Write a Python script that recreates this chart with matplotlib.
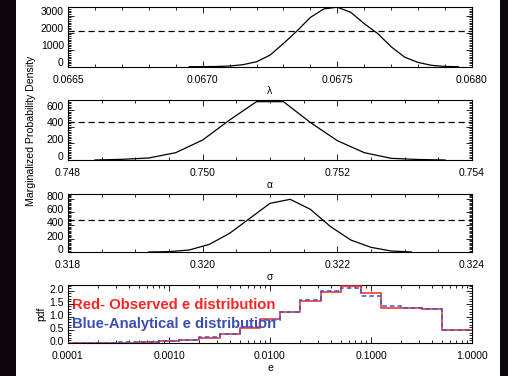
import matplotlib
matplotlib.use('Agg')
import matplotlib.pyplot as plt
import matplotlib.transforms as mtransforms
from matplotlib.patches import Rectangle
from matplotlib.ticker import FixedLocator, AutoMinorLocator, FormatStrFormatter, LogLocator, NullFormatter

plt.rcParams['font.family'] = ['Liberation Sans', 'DejaVu Sans']

# lambda marginal
lam_x = [0.06695, 0.06700, 0.06705, 0.06710, 0.06715, 0.06720, 0.06725, 0.06730, 0.06735,
         0.06740, 0.06745, 0.06750, 0.06755, 0.06760, 0.06765, 0.06770, 0.06775, 0.06780,
         0.06785, 0.06790, 0.06795]
lam_y = [0, 3, 12, 40, 120, 290, 680, 1365, 2100, 2900, 3400, 3500, 3200, 2530, 1950,
         1170, 560, 250, 80, 15, 0]
lam_level = 2100

# alpha marginal
alp_x = [0.7484, 0.7488, 0.7492, 0.7496, 0.7500, 0.7504, 0.7508, 0.7512, 0.7516, 0.7520,
         0.7524, 0.7528, 0.7532, 0.7536]
alp_y = [0, 8, 24, 88, 240, 480, 700, 700, 450, 232, 88, 20, 6, 0]
alp_level = 450

# sigma marginal
sig_x = [0.3192, 0.3195, 0.3198, 0.3201, 0.3204, 0.3207, 0.3210, 0.3213, 0.3216, 0.3219,
         0.3222, 0.3225, 0.3228, 0.3231]
sig_y = [0, 5, 30, 115, 280, 505, 730, 790, 640, 380, 180, 70, 15, 0]
sig_level = 480

# e distribution (log10 bin edges)
e_edges_log = [-4.1, -3.9, -3.7, -3.5, -3.3, -3.1, -2.9, -2.7, -2.5, -2.3, -2.1, -1.9, -1.7,
               -1.5, -1.3, -1.1, -0.9, -0.7, -0.5, -0.3, -0.1, 0.1]
e_observed = [0.003, 0.005, 0.01, 0.015, 0.03, 0.07, 0.13, 0.21, 0.35, 0.56, 0.92, 1.19, 1.6,
              1.96, 2.17, 1.9, 1.35, 1.35, 1.3, 0.5, 0.5]
e_analytic = [0.005, 0.01, 0.015, 0.02, 0.035, 0.07, 0.13, 0.22, 0.35, 0.6, 0.88, 1.19, 1.63,
              2.0, 2.1, 1.81, 1.43, 1.35, 1.3, 0.5, 0.5]

W, H = 508, 376
fig = plt.figure(figsize=(W / 100, H / 100), dpi=100, facecolor='#0d070c')
fig.patches.append(Rectangle((16 / W, 0), 484 / W, 1, transform=fig.transFigure,
                             facecolor='white', edgecolor='none', zorder=-1))


def add_ax(top, bottom):
    return fig.add_axes([68 / W, 1 - bottom / H, 404 / W, (bottom - top) / H])


def style(ax, nminor_y, label_shift):
    ax.tick_params(which='both', direction='in', top=True, right=True, labelsize=7.5,
                   width=0.6, colors='black')
    ax.tick_params(which='major', length=4)
    ax.tick_params(which='minor', length=2)
    ax.tick_params(axis='x', pad=6)
    ax.tick_params(axis='y', pad=3)
    ax.yaxis.set_minor_locator(AutoMinorLocator(nminor_y))
    for s in ax.spines.values():
        s.set_linewidth(0.8)
    off = mtransforms.ScaledTranslation(0, label_shift / 100, fig.dpi_scale_trans)
    for lab in ax.get_yticklabels():
        lab.set_transform(lab.get_transform() + off)


# panel 1
ax1 = add_ax(6.7, 66.7)
ax1.plot(lam_x, lam_y, color='black', lw=0.9)
ax1.axhline(lam_level, color='black', lw=0.9, ls=(0, (5, 3)))
ax1.set_xlim(0.0665, 0.0680)
ax1.set_ylim(0, 3530)
ax1.xaxis.set_major_locator(FixedLocator([0.0665, 0.0670, 0.0675, 0.0680]))
ax1.xaxis.set_minor_locator(AutoMinorLocator(5))
ax1.xaxis.set_major_formatter(FormatStrFormatter('%.4f'))
ax1.yaxis.set_major_locator(FixedLocator([0, 1000, 2000, 3000]))
ax1.set_xlabel('λ', fontsize=7.5, labelpad=1)
style(ax1, 10, 4.5)

# panel 2
ax2 = add_ax(100, 160)
ax2.plot(alp_x, alp_y, color='black', lw=0.9)
ax2.axhline(alp_level, color='black', lw=0.9, ls=(0, (5, 3)))
ax2.set_xlim(0.748, 0.754)
ax2.set_ylim(0, 720)
ax2.xaxis.set_major_locator(FixedLocator([0.748, 0.750, 0.752, 0.754]))
ax2.xaxis.set_minor_locator(AutoMinorLocator(4))
ax2.xaxis.set_major_formatter(FormatStrFormatter('%.3f'))
ax2.yaxis.set_major_locator(FixedLocator([0, 200, 400, 600]))
ax2.set_xlabel('α', fontsize=7.5, labelpad=1)
style(ax2, 10, 4.3)

# panel 3
ax3 = add_ax(194, 252)
ax3.plot(sig_x, sig_y, color='black', lw=0.9)
ax3.axhline(sig_level, color='black', lw=0.9, ls=(0, (5, 3)))
ax3.set_xlim(0.318, 0.324)
ax3.set_ylim(0, 870)
ax3.xaxis.set_major_locator(FixedLocator([0.318, 0.320, 0.322, 0.324]))
ax3.xaxis.set_minor_locator(AutoMinorLocator(4))
ax3.xaxis.set_major_formatter(FormatStrFormatter('%.3f'))
ax3.yaxis.set_major_locator(FixedLocator([0, 200, 400, 600, 800]))
ax3.set_xlabel('σ', fontsize=7.5, labelpad=1)
style(ax3, 10, 3)

# panel 4
ax4 = add_ax(285, 343)
edges = [10 ** v for v in e_edges_log]
ax4.stairs(e_observed, edges, color='#ff2424', lw=1.1, baseline=None, zorder=3)
ax4.stairs(e_analytic, edges, color='#3b55c8', lw=1.1, ls=(0, (3, 2)), baseline=None, zorder=4)
ax4.set_xscale('log')
ax4.set_xlim(1e-4, 1)
ax4.set_ylim(0, 2.22)
ax4.xaxis.set_major_locator(FixedLocator([1e-4, 1e-3, 1e-2, 1e-1, 1]))
ax4.xaxis.set_minor_locator(LogLocator(subs=range(2, 10)))
ax4.xaxis.set_minor_formatter(NullFormatter())
ax4.xaxis.set_major_formatter(FormatStrFormatter('%.4f'))
ax4.yaxis.set_major_locator(FixedLocator([0, 0.5, 1.0, 1.5, 2.0]))
ax4.yaxis.set_major_formatter(FormatStrFormatter('%.1f'))
ax4.set_xlabel('e', fontsize=7.5, labelpad=1)
ax4.set_ylabel('pdf', fontsize=7.5, labelpad=2)
style(ax4, 5, 2)
ax4.text(0.01, 0.655, 'Red- Observed e distribution', transform=ax4.transAxes,
         color='#ff2424', fontsize=10.7, fontweight='bold', va='center', ha='left', zorder=1)
ax4.text(0.01, 0.335, 'Blue-Analytical e distribution', transform=ax4.transAxes,
         color='#3a4fb0', fontsize=10.7, fontweight='bold', va='center', ha='left', zorder=1)

fig.text(31 / W, 1 - 131 / H, 'Marginalized Probability Density', rotation=90,
         fontsize=7.6, ha='center', va='center')

fig.savefig('out.png', dpi=100, facecolor=fig.get_facecolor())
